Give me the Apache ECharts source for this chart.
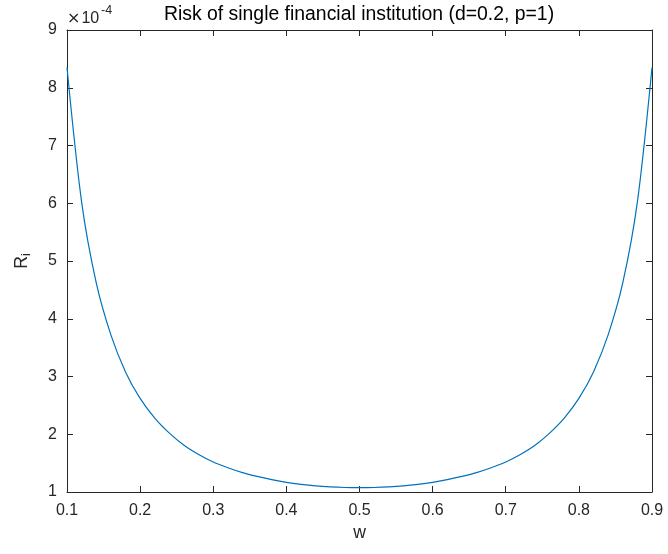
<!DOCTYPE html>
<html>
<head>
<meta charset="utf-8">
<script src="https://cdn.jsdelivr.net/npm/echarts@6/dist/echarts.min.js"></script>
<style>
html,body{margin:0;padding:0;background:#fff;}
#c{width:668px;height:554px;}
</style>
</head>
<body>
<div id="c"></div>
<script>
// Weights w (x axis)
const wValues = [0.10,0.12,0.14,0.16,0.18,0.20,0.22,0.24,0.26,0.28,0.30,0.32,0.34,0.36,0.38,0.40,0.42,0.44,0.46,0.48,0.50,
                 0.52,0.54,0.56,0.58,0.60,0.62,0.64,0.66,0.68,0.70,0.72,0.74,0.76,0.78,0.80,0.82,0.84,0.86,0.88,0.90];
// Risk R_i in units of 1e-4
const riskValues = [8.35,6.02,4.62,3.72,3.08,2.62,2.28,2.02,1.81,1.65,1.52,1.42,1.335,1.27,1.215,1.168,1.132,1.105,1.088,1.078,1.075,
                    1.078,1.088,1.105,1.132,1.168,1.215,1.27,1.335,1.42,1.52,1.65,1.81,2.02,2.28,2.62,3.08,3.72,4.62,6.02,8.35];
const xTicks = [0.1,0.2,0.3,0.4,0.5,0.6,0.7,0.8,0.9];
const yTicks = [1,2,3,4,5,6,7,8,9];

const titleText = 'Risk of single financial institution (d=0.2, p=1)';
const FONT = '"Liberation Sans", Arial, Helvetica, sans-serif';
const AX = '#262626';

const chart = echarts.init(document.getElementById('c'), null, {renderer: 'canvas'});
const data = wValues.map((w, i) => [w, riskValues[i]]);

const baseX = {
  type: 'value', min: xTicks[0], max: xTicks[xTicks.length - 1], interval: 0.1,
  axisLine: {show: true, lineStyle: {color: AX, width: 1}},
  axisTick: {show: true, inside: true, length: 6, lineStyle: {color: AX}},
  splitLine: {show: false}
};
const baseY = {
  type: 'value', min: yTicks[0], max: yTicks[yTicks.length - 1], interval: 1,
  axisLine: {show: true, lineStyle: {color: AX, width: 1}},
  axisTick: {show: true, inside: true, length: 6, lineStyle: {color: AX}},
  splitLine: {show: false}
};

chart.setOption({
  animation: false,
  backgroundColor: '#ffffff',
  grid: {left: 67, right: 16, top: 30, bottom: 62},
  xAxis: [
    Object.assign({}, baseX, {
      position: 'bottom',
      name: 'w', nameLocation: 'middle', nameGap: 30,
      nameTextStyle: {color: AX, fontFamily: FONT, fontSize: 17.6},
      axisLabel: {color: AX, fontFamily: FONT, fontSize: 16, margin: 11,
        formatter: v => v.toFixed(1)}
    }),
    Object.assign({}, baseX, {position: 'top', axisLabel: {show: false}})
  ],
  yAxis: [
    Object.assign({}, baseY, {
      position: 'left',
      name: '{r|R}{s|i}', nameLocation: 'middle', nameGap: 34, nameRotate: 90,
      nameTextStyle: {color: AX, fontFamily: FONT, fontSize: 17.6,
        rich: {
          r: {fontSize: 17.6, fontFamily: FONT, color: AX},
          s: {fontSize: 12.5, fontFamily: FONT, color: AX, verticalAlign: 'bottom', padding: [8, 0, 0, 0]}
        }},
      axisLabel: {color: AX, fontFamily: FONT, fontSize: 16, margin: 10}
    }),
    Object.assign({}, baseY, {position: 'right', axisLabel: {show: false}})
  ],
  graphic: [
    {type: 'text', x: 359, y: 15,
      style: {text: titleText, fill: '#000', font: '19.4px ' + FONT, textAlign: 'center', textVerticalAlign: 'middle'}},
    {type: 'text', x: 67, y: 19,
      style: {text: '{m|\u00d7}{n|10}', fill: AX, textAlign: 'left', textVerticalAlign: 'middle',
        rich: {
          m: {fontFamily: '"DejaVu Sans", sans-serif', fontSize: 16, fill: AX, padding: [0, 1, 0, 0]},
          n: {fontFamily: FONT, fontSize: 16, fill: AX}
        }}},
    {type: 'text', x: 101, y: 11,
      style: {text: '-4', fill: AX, font: '12.5px ' + FONT, textAlign: 'left', textVerticalAlign: 'middle'}}
  ],
  series: [{
    type: 'line', xAxisIndex: 0, yAxisIndex: 0,
    data: data, smooth: 0.3, showSymbol: false, symbol: 'none',
    lineStyle: {color: '#0072BD', width: 1.2}
  }]
});
</script>
</body>
</html>
